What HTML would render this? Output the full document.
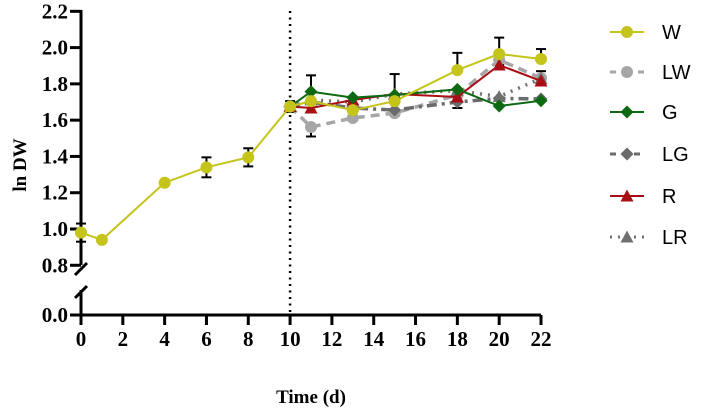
<!DOCTYPE html>
<html><head><meta charset="utf-8"><style>
body{margin:0;background:#fff}
svg{display:block;font-family:"Liberation Serif",serif}
</style></head><body>
<svg id="chart" width="708" height="414" viewBox="0 0 708 414"></svg>
<script>
const times=[0,1,4,6,8,10,11,13,15,18,20,22];
const wVals=[0.98,0.94,1.255,1.34,1.395,1.675,1.705,1.655,1.705,1.876,1.965,1.937];
const wErrUp=[0.05,0,0,0.055,0.05,0.03,0,0,0,0.095,0.09,0.055];
const wErrDn=[0.05,0,0,0.055,0.05,0.03,0,0,0,0,0,0];
const tLate=[10,11,13,15,18,20,22];
const lwVals=[1.675,1.562,1.612,1.639,1.739,1.932,1.832];
const gVals=[1.675,1.757,1.724,1.739,1.77,1.678,1.707];
const gErrUp=[0,0.09,0,0,0,0,0];
const lgVals=[1.675,1.70,1.667,1.656,1.70,1.72,1.717];
const rVals=[1.675,1.667,1.711,1.744,1.728,1.904,1.816];
const lrVals=[1.675,1.711,1.70,1.744,1.763,1.73,1.83];
const extraErr=[[11,1.562,1.51],[15,1.744,1.854],[18,1.77,1.667],[20,1.904,1.88],[22,1.832,1.87],[13,1.655,1.62],[15,1.639,1.625]];
const xTicks=[0,2,4,6,8,10,12,14,16,18,20,22];
const yTicks=[0.8,1.0,1.2,1.4,1.6,1.8,2.0,2.2];

const NS="http://www.w3.org/2000/svg";
const svg=document.getElementById('chart');
const X=v=>81+v*(460/22);
const Y=v=>229-(v-1)*181.4;
function mk(tag,attrs,parent){const e=document.createElementNS(NS,tag);for(const k in attrs)e.setAttribute(k,attrs[k]);(parent||svg).appendChild(e);return e;}
let e=mk('line',{x1:81,y1:315,x2:541,y2:315,stroke:'#000','stroke-width':3});


e=mk('line',{x1:81,y1:10,x2:81,y2:265,stroke:'#000','stroke-width':3});


e=mk('line',{x1:81,y1:290,x2:81,y2:316,stroke:'#000','stroke-width':3});


mk('line',{x1:75,y1:275,x2:87,y2:263,stroke:'#000','stroke-width':3});
mk('line',{x1:75,y1:298,x2:87,y2:286,stroke:'#000','stroke-width':3});
xTicks.forEach(t=>{
  mk('line',{x1:X(t),y1:315,x2:X(t),y2:325,stroke:'#000','stroke-width':3});
  const tx=mk('text',{x:X(t),y:346,'text-anchor':'middle','font-size':21,'font-weight':'bold'});
  tx.textContent=t;
  
  
});
yTicks.forEach(t=>{
  mk('line',{x1:70,y1:Y(t),x2:81,y2:Y(t),stroke:'#000','stroke-width':3});
  const tx=mk('text',{x:68,y:Y(t)+7,'text-anchor':'end','font-size':21,'font-weight':'bold'});
  tx.textContent=t.toFixed(1);
  
  
});
mk('line',{x1:70,y1:315,x2:81,y2:315,stroke:'#000','stroke-width':3});
let t0=mk('text',{x:68,y:322,'text-anchor':'end','font-size':21,'font-weight':'bold'});t0.textContent='0.0';


let yt=mk('text',{x:0,y:0,'text-anchor':'middle','font-size':19,'font-weight':'bold',transform:'translate(26,165) rotate(-90)'});yt.textContent='ln DW';


let xt=mk('text',{x:311,y:403,'text-anchor':'middle','font-size':19,'font-weight':'bold'});xt.textContent='Time (d)';


let vl=mk('line',{x1:X(10),y1:11,x2:X(10),y2:313,stroke:'#000','stroke-width':2.5,'stroke-dasharray':'2 4.5'});


function err(x,lo,hi){
  mk('line',{x1:X(x),y1:Y(lo),x2:X(x),y2:Y(hi),stroke:'#000','stroke-width':2});
  mk('line',{x1:X(x)-5,y1:Y(lo),x2:X(x)+5,y2:Y(lo),stroke:'#000','stroke-width':2});
  mk('line',{x1:X(x)-5,y1:Y(hi),x2:X(x)+5,y2:Y(hi),stroke:'#000','stroke-width':2});
}
times.forEach((t,i)=>{if(wErrUp[i]||wErrDn[i])err(t,wVals[i]-wErrDn[i],wVals[i]+wErrUp[i]);});
tLate.forEach((t,i)=>{if(gErrUp[i])err(t,gVals[i],gVals[i]+gErrUp[i]);});
extraErr.forEach(a=>err(a[0],a[1],a[2]));
function marker(shape,x,y,color,g){
  if(shape==='circle')return mk('circle',{cx:x,cy:y,r:6,fill:color},g);
  if(shape==='diamond')return mk('polygon',{points:`${x},${y-6.5} ${x+6.5},${y} ${x},${y+6.5} ${x-6.5},${y}`,fill:color},g);
  return mk('polygon',{points:`${x},${y-6.5} ${x+6.5},${y+5.5} ${x-6.5},${y+5.5}`,fill:color},g);
}
const series=[
 {name:'LW',xs:tLate,ys:lwVals,color:'#a6a6a6',dash:'9 6',w:3.5,shape:'circle'},
 {name:'LG',xs:tLate,ys:lgVals,color:'#6b6b6b',dash:'10 5 3 5',w:3.5,shape:'diamond'},
 {name:'LR',xs:tLate,ys:lrVals,color:'#707070',dash:'2 6',w:3.5,shape:'tri'},
 {name:'R',xs:tLate,ys:rVals,color:'#a80f14',dash:'',w:2,shape:'tri'},
 {name:'G',xs:tLate,ys:gVals,color:'#0d6a12',dash:'',w:2,shape:'diamond'},
 {name:'W',xs:times,ys:wVals,color:'#c4c41a',dash:'',w:2,shape:'circle'}
];
series.forEach(s=>{
  const g=mk('g',{});
  
  
  const pts=s.xs.map((x,i)=>X(x)+','+Y(s.ys[i])).join(' ');
  const pl=mk('polyline',{points:pts,fill:'none',stroke:s.color,'stroke-width':s.w,'stroke-dasharray':s.dash},g);
  
  
  s.xs.forEach((x,i)=>{
    const m=marker(s.shape,X(x),Y(s.ys[i]),s.color,g);
    
    
  });
});
const legend=[
 {name:'W',color:'#c4c41a',dash:'',shape:'circle'},
 {name:'LW',color:'#a6a6a6',dash:'6 8',shape:'circle'},
 {name:'G',color:'#0d6a12',dash:'',shape:'diamond'},
 {name:'LG',color:'#6b6b6b',dash:'6 6',shape:'diamond'},
 {name:'R',color:'#a80f14',dash:'',shape:'tri'},
 {name:'LR',color:'#707070',dash:'2 6',shape:'tri'}
];
const ly=[32,72,112,154,196,237];
legend.forEach((l,i)=>{
  const g=mk('g',{});
  
  
  mk('line',{x1:610,y1:ly[i],x2:644,y2:ly[i],stroke:l.color,'stroke-width':l.dash?3:2,'stroke-dasharray':l.dash},g);
  marker(l.shape,627,ly[i],l.color,g);
  const tx=mk('text',{x:662,y:ly[i]+7,'font-size':20,'font-family':'Liberation Sans, sans-serif'},g);
  tx.textContent=l.name;
});
</script>
</body></html>
